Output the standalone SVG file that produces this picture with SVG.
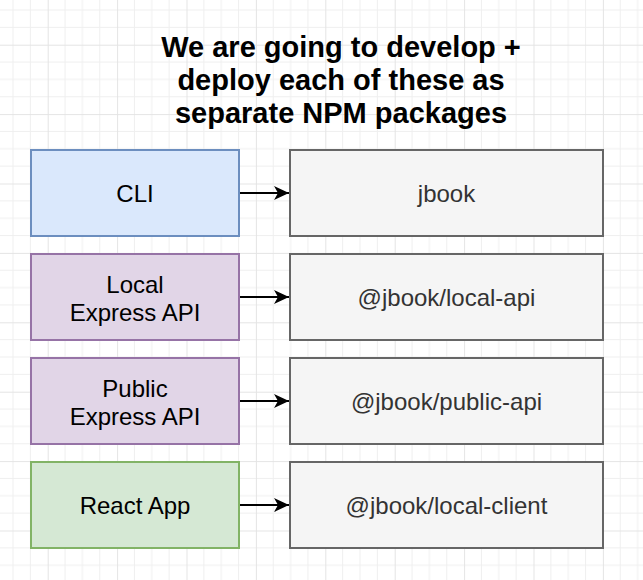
<svg xmlns="http://www.w3.org/2000/svg" width="643" height="580" viewBox="0 0 643 580">
  <style>
    .t { font-family: "Liberation Sans", Arial, sans-serif; font-size: 24px; text-anchor: middle; }
    .title { font-family: "Liberation Sans", Arial, sans-serif; font-size: 29px; font-weight: bold; text-anchor: middle; fill: #000; }
    .blue { fill: #dae8fc; stroke: #6c8ebf; stroke-width: 2; }
    .purple { fill: #e1d5e7; stroke: #9673a6; stroke-width: 2; }
    .green { fill: #d5e8d4; stroke: #82b366; stroke-width: 2; }
    .gray { fill: #f5f5f5; stroke: #666666; stroke-width: 2; }
    .dark { fill: #000; }
    .pk { fill: #333333; }
    .edge { stroke: #000; stroke-width: 2; fill: none; }
  </style>
  <defs>
    <pattern id="grid" patternUnits="userSpaceOnUse" x="47.7" y="44.7" width="69.4" height="69.4">
      <path d="M17.35 0V69.4M34.7 0V69.4M52.05 0V69.4M0 17.35H69.4M0 34.7H69.4M0 52.05H69.4" stroke="#efefef" stroke-width="1" fill="none"/>
      <path d="M0.5 0V69.4M0 0.5H69.4" stroke="#e4e4e4" stroke-width="1" fill="none"/>
    </pattern>
    <marker id="arr" markerUnits="userSpaceOnUse" markerWidth="16" markerHeight="16" refX="15" refY="7.5" orient="auto">
      <path d="M0 0.5L15 7.5L0 14.5L4 7.5Z" fill="#000"/>
    </marker>
  </defs>
  <rect width="643" height="580" fill="#ffffff"/>
  <rect width="643" height="580" fill="url(#grid)"/>

  <g id="title">
    <text class="title" x="341" y="57">We are going to develop +</text>
    <text class="title" x="341" y="90">deploy each of these as</text>
    <text class="title" x="341" y="123">separate NPM packages</text>
  </g>

  <g id="cli">
    <rect class="blue" x="31" y="150" width="208" height="86"/>
    <text class="t dark" x="135" y="201.5">CLI</text>
  </g>
  <g id="local-express">
    <rect class="purple" x="31" y="254" width="208" height="86"/>
    <text class="t dark" x="135" y="292.5">Local</text>
    <text class="t dark" x="135" y="320.5">Express API</text>
  </g>
  <g id="public-express">
    <rect class="purple" x="31" y="358" width="208" height="86"/>
    <text class="t dark" x="135" y="396.5">Public</text>
    <text class="t dark" x="135" y="424.5">Express API</text>
  </g>
  <g id="react-app">
    <rect class="green" x="31" y="462" width="208" height="86"/>
    <text class="t dark" x="135" y="513.5">React App</text>
  </g>

  <g id="jbook">
    <rect class="gray" x="290" y="150" width="313" height="86"/>
    <text class="t pk" x="446.5" y="201.5">jbook</text>
  </g>
  <g id="local-api">
    <rect class="gray" x="290" y="254" width="313" height="86"/>
    <text class="t pk" x="446.5" y="305.5">@jbook/local-api</text>
  </g>
  <g id="public-api">
    <rect class="gray" x="290" y="358" width="313" height="86"/>
    <text class="t pk" x="446.5" y="409.5">@jbook/public-api</text>
  </g>
  <g id="local-client">
    <rect class="gray" x="290" y="462" width="313" height="86"/>
    <text class="t pk" x="446.5" y="513.5">@jbook/local-client</text>
  </g>

  <g id="connectors">
    <path class="edge" d="M240 193H289" marker-end="url(#arr)"/>
    <path class="edge" d="M240 297H289" marker-end="url(#arr)"/>
    <path class="edge" d="M240 401H289" marker-end="url(#arr)"/>
    <path class="edge" d="M240 505H289" marker-end="url(#arr)"/>
  </g>
</svg>
